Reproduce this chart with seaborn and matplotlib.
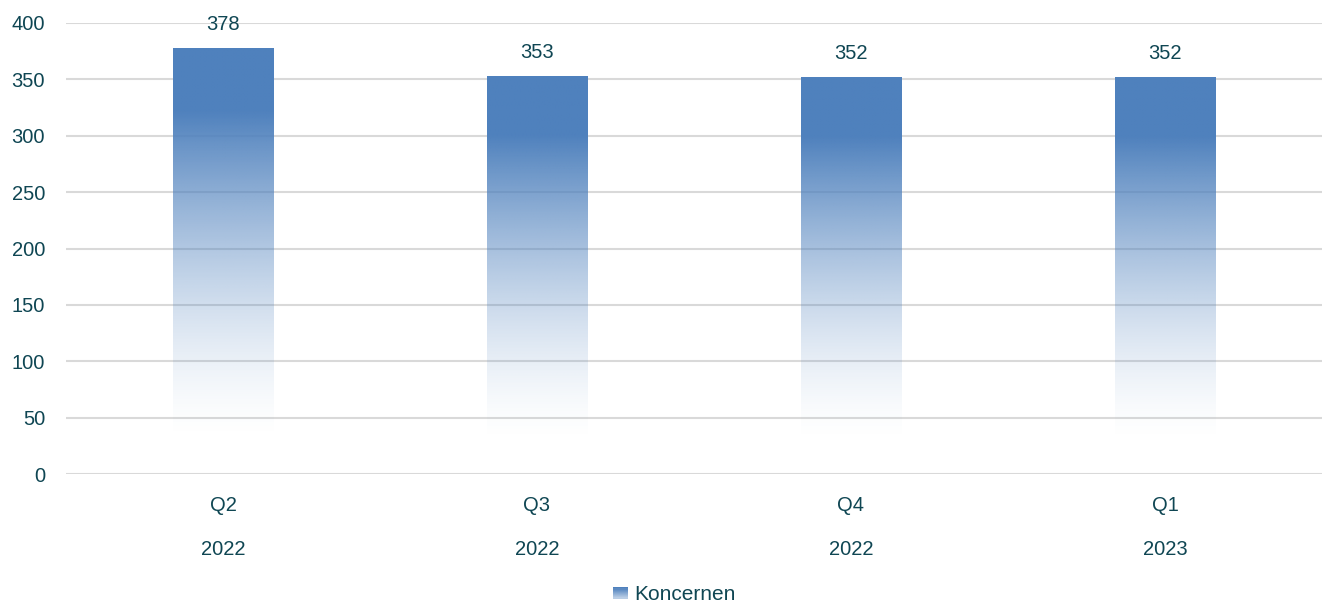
import numpy as np
import pandas as pd
import seaborn as sns
import matplotlib.pyplot as plt
from matplotlib.patches import Patch, Rectangle
from matplotlib.legend_handler import HandlerBase
from matplotlib.colors import to_rgb

quarters = ["Q2", "Q3", "Q4", "Q1"]
years = ["2022", "2022", "2022", "2023"]
values = [378, 353, 352, 352]
series_name = "Koncernen"

bar_color = "#4f81bd"
text_color = "#0f4653"
grid_color = "#d9d9d9"
fs = 14.5

df = pd.DataFrame({"period": [q + "\n" + y for q, y in zip(quarters, years)],
                   "value": values})

sns.set_style("white")
plt.rcParams["font.family"] = ["Liberation Sans", "DejaVu Sans"]

fig = plt.figure(figsize=(13.22, 6.05), dpi=100)
ax = fig.add_axes([66 / 1322, 131 / 605, 1256 / 1322, 451 / 605])

sns.barplot(data=df, x="period", y="value", color=bar_color, width=0.32,
            saturation=1, ax=ax, zorder=3)

# gradient fill: solid near the top, fading out towards the bottom
rgb = np.array(to_rgb(bar_color))


def alpha_at(frac):
    t = np.clip((frac - 0.15) / 0.77, 0, 1)
    return (1 - t) ** 1.5


n = 256
grad = np.zeros((n, 1, 4))
grad[:, 0, :3] = rgb
grad[:, 0, 3] = alpha_at(np.linspace(0, 1, n))

for patch, v in zip(ax.patches, values):
    x0 = patch.get_x()
    w = patch.get_width()
    h = patch.get_height()
    im = ax.imshow(grad, extent=[x0, x0 + w, 0, h], aspect="auto",
                   origin="upper", zorder=3, interpolation="bilinear")
    im.set_clip_path(patch)
    patch.set_facecolor("none")
    patch.set_edgecolor("none")
    ax.annotate(str(v), (x0 + w / 2, h), xytext=(0, 10), textcoords="offset points",
                ha="center", va="bottom", fontsize=fs, color=text_color)

ax.set_xlim(-0.5, 3.5)
ax.set_ylim(0, 400)
ax.set_yticks(range(0, 401, 50))
ax.yaxis.grid(True, color=grid_color, linewidth=1.5, zorder=0)
ax.set_axisbelow(True)
for s in ax.spines.values():
    s.set_visible(False)
ax.tick_params(axis="both", length=0, labelsize=fs, labelcolor=text_color)
ax.tick_params(axis="y", pad=15)
ax.tick_params(axis="x", pad=16)
for lab in ax.get_xticklabels():
    lab.set_linespacing(2.65)
ax.set_xlabel("")
ax.set_ylabel("")


class GradientHandler(HandlerBase):
    def create_artists(self, legend, orig_handle, xdescent, ydescent,
                       width, height, fontsize, trans):
        steps = 10
        arts = []
        for i in range(steps):
            a = 1 - 0.6 * i / (steps - 1)
            c = 1 - a * (1 - rgb)
            arts.append(Rectangle((-xdescent, -ydescent + height * (1 - (i + 1) / steps)),
                                  width, height / steps, facecolor=c,
                                  edgecolor="none", transform=trans))
        return arts


handle = Patch(facecolor=bar_color, edgecolor="none", label=series_name)
fig.legend(handles=[handle], loc="lower center", bbox_to_anchor=(0.51, -0.03),
           frameon=False, fontsize=15, labelcolor=text_color,
           handlelength=0.7, handleheight=0.45, handletextpad=0.3,
           handler_map={Patch: GradientHandler()})

fig.savefig("out.png", dpi=100)
